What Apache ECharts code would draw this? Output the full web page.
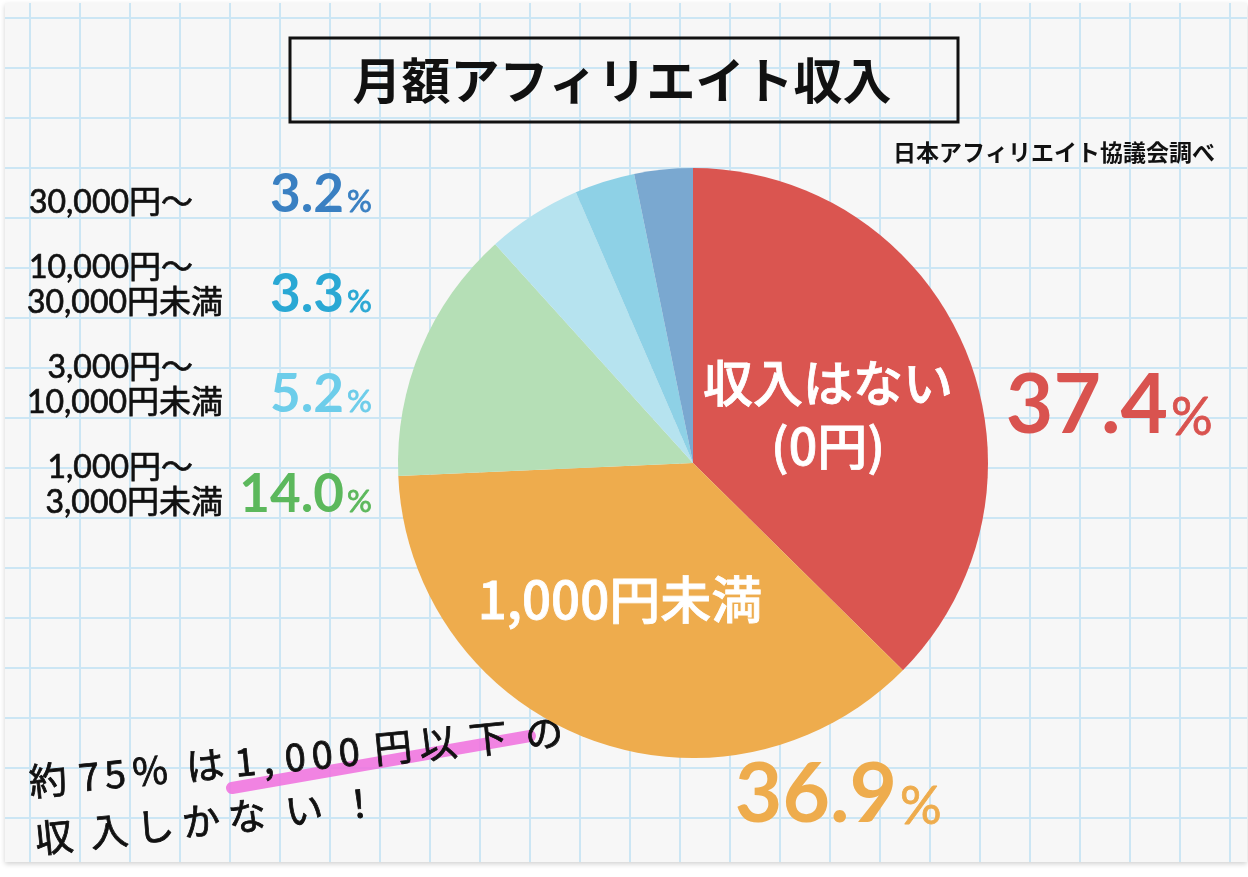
<!DOCTYPE html>
<html><head><meta charset="utf-8">
<style>html,body{margin:0;padding:0;background:#fff}#c{width:1248px;height:877px}</style>
<script src="https://cdn.jsdelivr.net/npm/echarts@6/dist/echarts.min.js"></script>
</head><body><div id="c"></div>
<script>
// ---- data ----
const titleText = '月額アフィリエイト収入';
const sourceText = '日本アフィリエイト協議会調べ';
const categories = ['収入はない\n(0円)', '1,000円未満', '1,000円〜\n3,000円未満', '3,000円〜\n10,000円未満', '10,000円〜\n30,000円未満', '30,000円〜'];
const values = [37.4, 36.9, 14.0, 5.2, 3.3, 3.2];
const sliceColors = ['#da5550', '#eeac4d', '#b5dfb6', '#b6e3ef', '#8ed1e6', '#7aa8d0'];
const valueColors = ['#d9534f', '#eeac4d', '#5cb85c', '#6dcdea', '#2aa8d4', '#3a80c2'];
const noteLines = ['約75%は1,000円以下の', '収入しかない！'];

// ---- layout ----
const CJK = '"Noto Sans CJK JP", sans-serif';
const LATCJK = 'Lato, "Noto Sans CJK JP", sans-serif';
const chart = echarts.init(document.getElementById('c'), null, {renderer: 'canvas'});
const g = [];
// paper
g.push({type: 'rect', shape: {x: 5, y: 3, width: 1242, height: 859},
  style: {fill: '#f7f7f7', shadowBlur: 5, shadowColor: 'rgba(0,0,0,0.18)', shadowOffsetY: 2}});
for (let x = 30; x < 1248; x += 50)
  g.push({type: 'line', shape: {x1: x, y1: 3, x2: x, y2: 862}, style: {stroke: '#cce6f4', lineWidth: 2}});
for (let y = 18; y < 862; y += 50)
  g.push({type: 'line', shape: {x1: 5, y1: y, x2: 1247, y2: y}, style: {stroke: '#cce6f4', lineWidth: 2}});
// title box
g.push({type: 'rect', shape: {x: 290, y: 38, width: 668, height: 84}, style: {fill: 'rgba(0,0,0,0)', stroke: '#111', lineWidth: 3}});
g.push({type: 'text', x: 622, y: 80, style: {text: titleText, font: 'bold 49px ' + CJK, fill: '#111', align: 'center', verticalAlign: 'middle'}});
g.push({type: 'text', x: 1215, y: 152, style: {text: sourceText, font: 'bold 23px ' + CJK, fill: '#111', align: 'right', verticalAlign: 'middle'}});

// percent label helper
function pct(v, color, xr, yNum, yPct, numSize, pSize) {
  g.push({type: 'text', x: xr, y: yNum, style: {text: v.toFixed(1), font: 'bold ' + numSize + 'px Lato, sans-serif', fill: color, align: 'right', verticalAlign: 'middle'}});
  g.push({type: 'text', x: xr + 3, y: yPct, style: {text: '%', font: pSize + 'px Lato, sans-serif', fill: color, stroke: color, lineWidth: 0.8, align: 'left', verticalAlign: 'middle'}});
}
// left list (indices 5,4,3,2 top to bottom)
const listOrder = [5, 4, 3, 2];
listOrder.forEach((idx, row) => {
  const rowY = 195 + 100 * row;
  const lines = categories[idx].split('\n');
  lines.forEach((ln, j) => {
    const cy = rowY + 8 - (lines.length - 1 - j) * 35;
    const xr = ln.endsWith('〜') ? 193 : 223;
    g.push({type: 'text', x: xr, y: cy, style: {text: ln, font: '32px ' + LATCJK, fill: '#111', stroke: '#111', lineWidth: 0.7, align: 'right', verticalAlign: 'middle'}});
  });
  pct(values[idx], valueColors[idx], 344, rowY, rowY + 7, 53, 31);
});
pct(values[0], valueColors[0], 1168, 407, 418, 82, 52);
pct(values[1], valueColors[1], 897, 796, 807, 82, 52);

// handwritten note
g.push({type: 'line', shape: {x1: 232, y1: 788, x2: 530, y2: 736},
  style: {stroke: 'rgba(240,110,222,0.85)', lineWidth: 12, lineCap: 'round'}});
const l1x = [48, 89, 115, 150, 205, 245, 268, 295, 322, 349, 393, 438, 488, 544];
Array.from(noteLines[0]).forEach((ch, i) => {
  const x = l1x[i];
  g.push({type: 'text', x: x, y: 780 - (x - 48) * 0.095, rotation: 0.1,
    style: {text: ch, font: '38px ' + CJK, fill: '#111', stroke: '#111', lineWidth: 0.8, align: 'center', verticalAlign: 'middle'}});
});
const l2x = [54, 109, 155, 201, 247, 304, 359];
Array.from(noteLines[1]).forEach((ch, i) => {
  const x = l2x[i];
  g.push({type: 'text', x: x, y: 837 - (x - 54) * 0.11, rotation: 0.1,
    style: {text: ch, font: '38px ' + CJK, fill: '#111', stroke: '#111', lineWidth: 0.8, align: 'center', verticalAlign: 'middle'}});
});

const labelPos = {0: [828, 414], 1: [620, 600]};
chart.setOption({
  animation: false,
  graphic: {elements: g},
  series: [{
    type: 'pie',
    center: [693, 463],
    radius: 295,
    startAngle: 90,
    clockwise: true,
    silent: true,
    emphasis: {disabled: true},
    itemStyle: {borderWidth: 0},
    labelLine: {show: false},
    data: values.map((v, i) => ({
      value: v, name: categories[i],
      itemStyle: {color: sliceColors[i]},
      label: i < 2 ? {
        show: true, position: 'inside', formatter: '{b}', color: '#fff',
        fontFamily: CJK, fontWeight: 500, fontSize: i === 0 ? 50 : 51, lineHeight: 63,
        textBorderColor: '#fff', textBorderWidth: 0.8
      } : {show: false}
    })),
    labelLayout: function (p) {
      const pos = labelPos[p.dataIndex];
      if (!pos) return {};
      return {x: pos[0], y: pos[1], align: 'center', verticalAlign: 'middle'};
    }
  }]
});
</script></body></html>
